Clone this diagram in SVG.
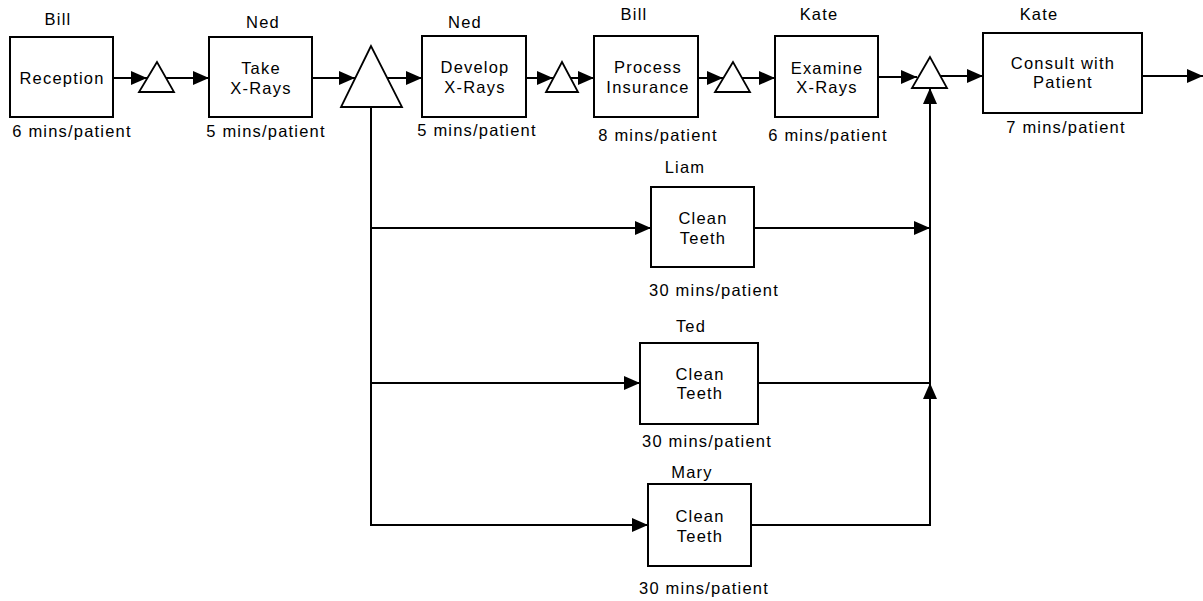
<svg xmlns="http://www.w3.org/2000/svg" width="1203" height="601" viewBox="0 0 1203 601">
<defs>
<style>
.box{fill:#fff;stroke:#000;stroke-width:2}
.tri{fill:#fff;stroke:#000;stroke-width:1.8;stroke-linejoin:miter}
.ln{fill:none;stroke:#000;stroke-width:2}
text{font-family:"Liberation Sans",Arial,sans-serif;font-size:16.5px;letter-spacing:1.2px;fill:#000;text-anchor:middle}
</style>
<marker id="ah" markerUnits="userSpaceOnUse" markerWidth="16" markerHeight="14" refX="16" refY="7" orient="auto" viewBox="0 0 16 14">
<path d="M0,0 L16,7 L0,14 z" fill="#000"/>
</marker>
</defs>
<rect width="1203" height="601" fill="#fff"/>
<g id="connectors">
<path class="ln" d="M113,78 H147" marker-end="url(#ah)"/>
<path class="ln" d="M166,78 H209" marker-end="url(#ah)"/>
<path class="ln" d="M312,78 H355" marker-end="url(#ah)"/>
<path class="ln" d="M387,78 H422" marker-end="url(#ah)"/>
<path class="ln" d="M526,78 H553" marker-end="url(#ah)"/>
<path class="ln" d="M571,78 H594" marker-end="url(#ah)"/>
<path class="ln" d="M698,78 H723" marker-end="url(#ah)"/>
<path class="ln" d="M742,78 H775" marker-end="url(#ah)"/>
<path class="ln" d="M878,77 H917" marker-end="url(#ah)"/>
<path class="ln" d="M941,76 H983" marker-end="url(#ah)"/>
<path class="ln" d="M1142,76 H1203" marker-end="url(#ah)"/>
<path class="ln" d="M371,107 V525 H648" marker-end="url(#ah)"/>
<path class="ln" d="M371,228 H651" marker-end="url(#ah)"/>
<path class="ln" d="M371,383 H640" marker-end="url(#ah)"/>
<path class="ln" d="M754,228 H930" marker-end="url(#ah)"/>
<path class="ln" d="M758,383 H930"/>
<path class="ln" d="M751,525 H930 V383" marker-end="url(#ah)"/>
<path class="ln" d="M930,383 V88" marker-end="url(#ah)"/>
</g>
<g id="q1"><polygon class="tri" points="157,62 139,92 174,92"/></g>
<g id="q2"><polygon class="tri" points="371,46 341,107 402,107"/></g>
<g id="q3"><polygon class="tri" points="562,62 546,92 578,92"/></g>
<g id="q4"><polygon class="tri" points="733,62 715,92 750,92"/></g>
<g id="q5"><polygon class="tri" points="930,57 912,88 947,88"/></g>
<g id="reception">
<rect class="box" x="10" y="37" width="103" height="80"/>
<text x="58" y="25">Bill</text>
<text x="62" y="84">Reception</text>
<text x="72" y="137">6 mins/patient</text>
</g>
<g id="take-xrays">
<rect class="box" x="209" y="37" width="103" height="80"/>
<text x="263" y="28">Ned</text>
<text x="261" y="74">Take</text>
<text x="261" y="94">X-Rays</text>
<text x="266" y="137">5 mins/patient</text>
</g>
<g id="develop-xrays">
<rect class="box" x="422" y="36" width="104" height="81"/>
<text x="465" y="28">Ned</text>
<text x="475" y="73">Develop</text>
<text x="475" y="93">X-Rays</text>
<text x="477" y="136">5 mins/patient</text>
</g>
<g id="process-insurance">
<rect class="box" x="594" y="36" width="104" height="81"/>
<text x="634" y="20">Bill</text>
<text x="648" y="73">Process</text>
<text x="648" y="93">Insurance</text>
<text x="658" y="141">8 mins/patient</text>
</g>
<g id="examine-xrays">
<rect class="box" x="775" y="36" width="103" height="81"/>
<text x="819" y="20">Kate</text>
<text x="827" y="74">Examine</text>
<text x="827" y="93">X-Rays</text>
<text x="828" y="141">6 mins/patient</text>
</g>
<g id="consult">
<rect class="box" x="983" y="33" width="159" height="80"/>
<text x="1039" y="20">Kate</text>
<text x="1063" y="69">Consult with</text>
<text x="1063" y="88">Patient</text>
<text x="1066" y="133">7 mins/patient</text>
</g>
<g id="clean-liam">
<rect class="box" x="651" y="187" width="103" height="80"/>
<text x="685" y="173">Liam</text>
<text x="703" y="224">Clean</text>
<text x="703" y="244">Teeth</text>
<text x="714" y="296">30 mins/patient</text>
</g>
<g id="clean-ted">
<rect class="box" x="640" y="343" width="118" height="81"/>
<text x="691" y="332">Ted</text>
<text x="700" y="380">Clean</text>
<text x="700" y="399">Teeth</text>
<text x="707" y="447">30 mins/patient</text>
</g>
<g id="clean-mary">
<rect class="box" x="648" y="484" width="103" height="82"/>
<text x="692" y="478">Mary</text>
<text x="700" y="522">Clean</text>
<text x="700" y="542">Teeth</text>
<text x="704" y="594">30 mins/patient</text>
</g>
</svg>
